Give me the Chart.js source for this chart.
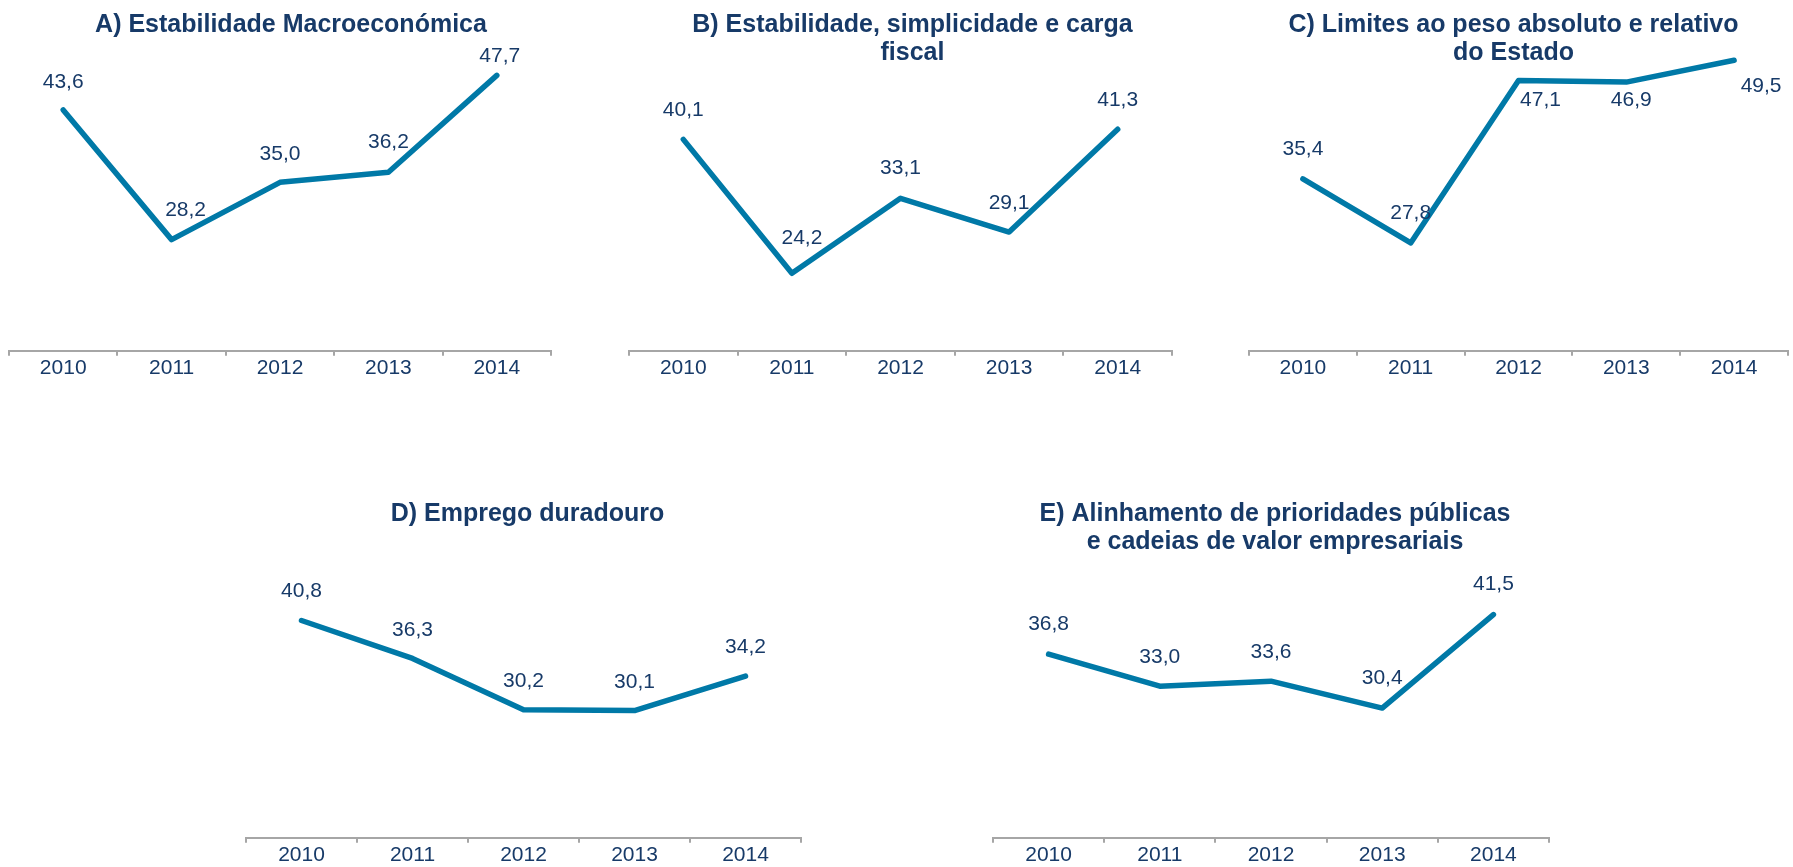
<!DOCTYPE html>
<html>
<head>
<meta charset="utf-8">
<script src="https://cdn.jsdelivr.net/npm/chart.js@4.4.0/dist/chart.umd.min.js"></script>
<style>
  html, body { margin: 0; padding: 0; background: #fff; }
  body { width: 1793px; height: 867px; position: relative; overflow: hidden; }
  canvas { position: absolute; }
</style>
</head>
<body>
<canvas id="chartA" width="600" height="381" style="left:0px;top:0px"></canvas>
<canvas id="chartB" width="600" height="381" style="left:600px;top:0px"></canvas>
<canvas id="chartC" width="593" height="381" style="left:1200px;top:0px"></canvas>
<canvas id="chartD" width="650" height="408" style="left:200px;top:460px"></canvas>
<canvas id="chartE" width="650" height="408" style="left:950px;top:460px"></canvas>
<script>
const years = ['2010', '2011', '2012', '2013', '2014'];

const valuesA = [43.6, 28.2, 35.0, 36.2, 47.7];
const valuesB = [40.1, 24.2, 33.1, 29.1, 41.3];
const valuesC = [35.4, 27.8, 47.1, 46.9, 49.5];
const valuesD = [40.8, 36.3, 30.2, 30.1, 34.2];
const valuesE = [36.8, 33.0, 33.6, 30.4, 41.5];

const titleA = ['A) Estabilidade Macroeconómica'];
const titleB = ['B) Estabilidade, simplicidade e carga', 'fiscal'];
const titleC = ['C) Limites ao peso absoluto e relativo', 'do Estado'];
const titleD = ['D) Emprego duradouro'];
const titleE = ['E) Alinhamento de prioridades públicas', 'e cadeias de valor empresariais'];

const navy = '#173a68';
const lineColor = '#0079a7';
const axisGrey = '#a6a6a6';
const fontFamily = '"Liberation Sans", Arial, sans-serif';

// value labels drawn next to each point (offsets relative to the point)
const pointLabels = {
    id: 'pointLabels',
    afterLayout(chart, args, opts) {
        // nudge the title sideways, the original is not centred on the axis
        const tb = chart.titleBlock;
        if (tb && opts.titleShift) {
            tb.left += opts.titleShift;
            tb.right += opts.titleShift;
        }
    },
    afterDatasetsDraw(chart, args, opts) {
        const ctx = chart.ctx;
        const meta = chart.getDatasetMeta(0);
        const values = chart.data.datasets[0].data;
        ctx.save();
        ctx.font = '21px ' + fontFamily;
        ctx.fillStyle = navy;
        ctx.textAlign = 'center';
        ctx.textBaseline = 'middle';
        meta.data.forEach((pt, i) => {
            const off = (opts.offsets && opts.offsets[i]) || [0, -29];
            ctx.fillText(values[i].toFixed(1).replace('.', ','), pt.x + off[0], pt.y + off[1]);
        });
        ctx.restore();
    }
};

function makeChart(id, title, values, pad, titlePad, titleShift, offsets) {
    return new Chart(document.getElementById(id), {
        type: 'line',
        data: {
            labels: years,
            datasets: [{
                data: values,
                borderColor: lineColor,
                borderWidth: 5.5,
                borderJoinStyle: 'round',
                borderCapStyle: 'round',
                pointRadius: 0,
                tension: 0,
                fill: false
            }]
        },
        plugins: [pointLabels],
        options: {
            responsive: false,
            animation: false,
            layout: { padding: { left: pad[0], right: pad[1], top: 0, bottom: 0 } },
            plugins: {
                legend: { display: false },
                tooltip: { enabled: false },
                title: {
                    display: true,
                    text: title,
                    color: navy,
                    font: { family: fontFamily, size: 25, weight: 'bold', lineHeight: 1.12 },
                    padding: { top: titlePad[0], bottom: titlePad[1] }
                },
                pointLabels: { offsets: offsets, titleShift: titleShift }
            },
            scales: {
                x: {
                    offset: true,
                    grid: {
                        offset: true,
                        drawOnChartArea: false,
                        drawTicks: true,
                        tickLength: 5,
                        color: axisGrey,
                        lineWidth: 2
                    },
                    border: { display: true, color: axisGrey, width: 2 },
                    ticks: {
                        color: navy,
                        padding: 0,
                        font: { family: fontFamily, size: 21 }
                    }
                },
                y: {
                    display: false,
                    min: 15,
                    max: 50
                }
            }
        }
    });
}

makeChart('chartA', titleA, valuesA, [9, 49], [11, 17], 11,
    [[0, -28], [14, -29], [0, -28], [0, -30], [3, -19]]);
makeChart('chartB', titleB, valuesB, [29, 28], [11, -11], 12,
    [[0, -29], [10, -35], [0, -30], [0, -29], [0, -29]]);
makeChart('chartC', titleC, valuesC, [49, 5], [11, -11], -5,
    [[0, -30], [0, -30], [22, 20], [5, 18], [27, 26]]);
makeChart('chartD', titleD, valuesD, [46, 49], [40, 15], 4,
    [[0, -29], [0, -28], [0, -29], [0, -28], [0, -29]]);
makeChart('chartE', titleE, valuesE, [43, 51], [40, -13], 4,
    [[0, -30], [0, -29], [0, -29], [0, -30], [0, -30]]);
</script>
</body>
</html>
